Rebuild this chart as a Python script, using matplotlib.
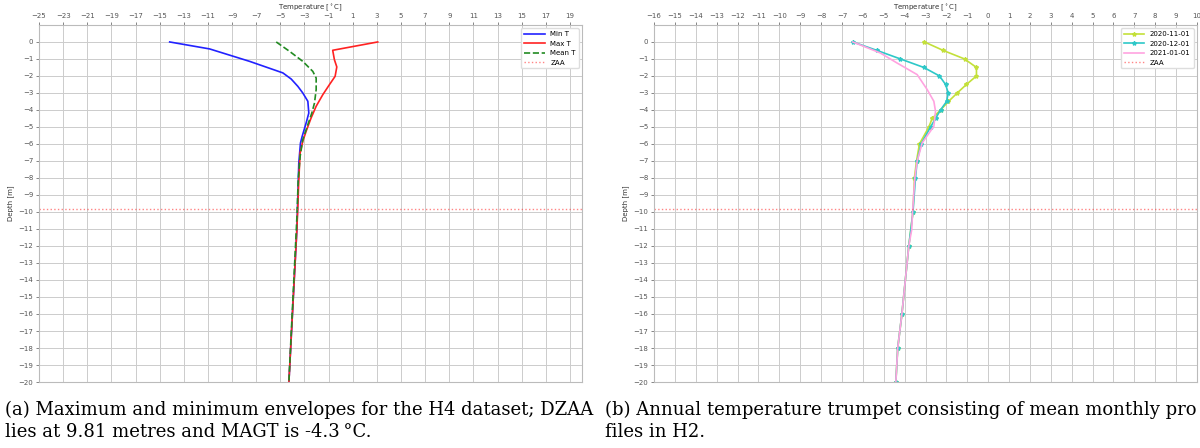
import numpy as np
import matplotlib as mpl
mpl.use('Agg')
import matplotlib.pyplot as plt

# H4 envelopes: depth [m] and temperature [deg C]
h4_depth_min = [0, -0.41, -1.14, -1.82, -2.18, -2.61, -3.0, -3.49, -4.18, -4.76, -5.55, -5.94, -7.12, -9.08, -11.04, -14, -17, -20]
h4_min = [-14.17, -10.86, -7.55, -4.79, -4.10, -3.55, -3.14, -2.72, -2.64, -2.86, -3.19, -3.33, -3.47, -3.55, -3.63, -3.85, -4.07, -4.29]
h4_depth_max = [0, -0.49, -1.04, -1.47, -2.02, -2.51, -3.10, -3.78, -4.47, -5.25, -5.84, -6.53, -8.1, -9.67, -11.04, -14, -17, -20]
h4_max = [3.07, -0.66, -0.52, -0.32, -0.46, -0.93, -1.48, -2.03, -2.45, -2.86, -3.14, -3.36, -3.47, -3.55, -3.63, -3.85, -4.07, -4.29]
h4_depth_mean = [0, -0.55, -1.14, -1.73, -2.12, -2.8, -3.59, -4.18, -4.86, -5.75, -6.73, -8.1, -10.06, -14, -17, -20]
h4_mean = [-5.34, -4.24, -3.14, -2.31, -2.03, -2.03, -2.17, -2.39, -2.72, -3.14, -3.36, -3.52, -3.61, -3.88, -4.09, -4.29]
h4_zaa = -9.81

# H2 monthly mean profiles
h2_depth = [0, -0.5, -1, -1.5, -2, -2.5, -3, -3.5, -4, -4.5, -5, -6, -7, -8, -10, -12, -16, -18, -20]
h2_nov = [-3.05, -2.15, -1.13, -0.56, -0.56, -1.04, -1.48, -1.90, -2.28, -2.68, -2.84, -3.29, -3.43, -3.53, -3.6, -3.8, -4.13, -4.33, -4.42]
h2_dec = [-6.48, -5.32, -4.20, -3.08, -2.33, -2.04, -1.91, -1.99, -2.28, -2.52, -2.76, -3.21, -3.40, -3.48, -3.6, -3.8, -4.13, -4.33, -4.42]
h2_jan_depth = [0, -0.65, -1.24, -1.92, -2.8, -3.49, -4.08, -4.96, -5.94, -7.02, -8.0, -10, -11.04, -12, -16, -18, -20]
h2_jan = [-6.48, -5.16, -4.36, -3.40, -2.92, -2.60, -2.52, -2.60, -3.16, -3.40, -3.51, -3.62, -3.66, -3.8, -4.13, -4.33, -4.42]
h2_months = ['2020-11-01', '2020-12-01', '2021-01-01']
h2_zaa = -9.81

grey = '#555555'

fig = plt.figure(figsize=(12, 4.48), dpi=100)


def style_axes(ax, xmin, xmax, xstep):
    ax.set_xlim(xmin, xmax)
    ax.set_ylim(-20, 1)
    ax.set_xticks(np.arange(xmin, xmax, xstep))
    ax.set_yticks(np.arange(-20, 1, 1))
    ax.xaxis.tick_top()
    ax.xaxis.set_label_position('top')
    ax.set_xlabel(r'Temperature [$^\circ$C]', fontsize=5, color='#333333', labelpad=2)
    ax.set_ylabel('Depth [m]', fontsize=5, color='#333333', labelpad=3)
    ax.tick_params(labelsize=5, colors=grey, length=2, width=0.5, pad=2)
    ax.grid(True, color='#cccccc', linewidth=0.7)
    ax.set_axisbelow(True)
    for s in ax.spines.values():
        s.set_color('#bbbbbb')
        s.set_linewidth(0.8)


ax1 = fig.add_axes([0.0325, 0.1473, 0.4525, 0.797])
style_axes(ax1, -25, 20, 2)
ax1.plot(h4_min, h4_depth_min, color='#2222ff', lw=1.2, label='Min T')
ax1.plot(h4_max, h4_depth_max, color='#ff2222', lw=1.2, label='Max T')
ax1.plot(h4_mean, h4_depth_mean, color='#228b22', lw=1.2, ls='--', label='Mean T')
ax1.axhline(h4_zaa, color='#ff3333', alpha=0.6, lw=1, ls=':', label='ZAA')
ax1.legend(loc='upper right', fontsize=5, framealpha=1, edgecolor='#dddddd', handlelength=3)

ax2 = fig.add_axes([0.545, 0.1473, 0.4525, 0.797])
style_axes(ax2, -16, 11, 1)
ax2.set_xlim(-16, 10)
ax2.plot(h2_nov, h2_depth, color='#c3e03a', lw=1.2, marker='*', ms=3, label=h2_months[0])
ax2.plot(h2_dec, h2_depth, color='#2ec8c8', lw=1.2, marker='*', ms=3, label=h2_months[1])
ax2.plot(h2_jan, h2_jan_depth, color='#ffa3e0', lw=1.2, label=h2_months[2])
ax2.axhline(h2_zaa, color='#ff3333', alpha=0.6, lw=1, ls=':', label='ZAA')
ax2.legend(loc='upper right', fontsize=5, framealpha=1, edgecolor='#dddddd', handlelength=3)

cap = dict(fontsize=13, family='DejaVu Serif', color='black', va='center', ha='left')
fig.text(5 / 1200, 1 - 410 / 448, '(a) Maximum and minimum envelopes for the H4 dataset; DZAA', **cap)
fig.text(5 / 1200, 1 - 432 / 448, 'lies at 9.81 metres and MAGT is -4.3\u2009\u00b0C.', **cap)
fig.text(605 / 1200, 1 - 410 / 448, '(b) Annual temperature trumpet consisting of mean monthly pro', **cap)
fig.text(605 / 1200, 1 - 432 / 448, 'files in H2.', **cap)

fig.savefig('out.png', dpi=100)
